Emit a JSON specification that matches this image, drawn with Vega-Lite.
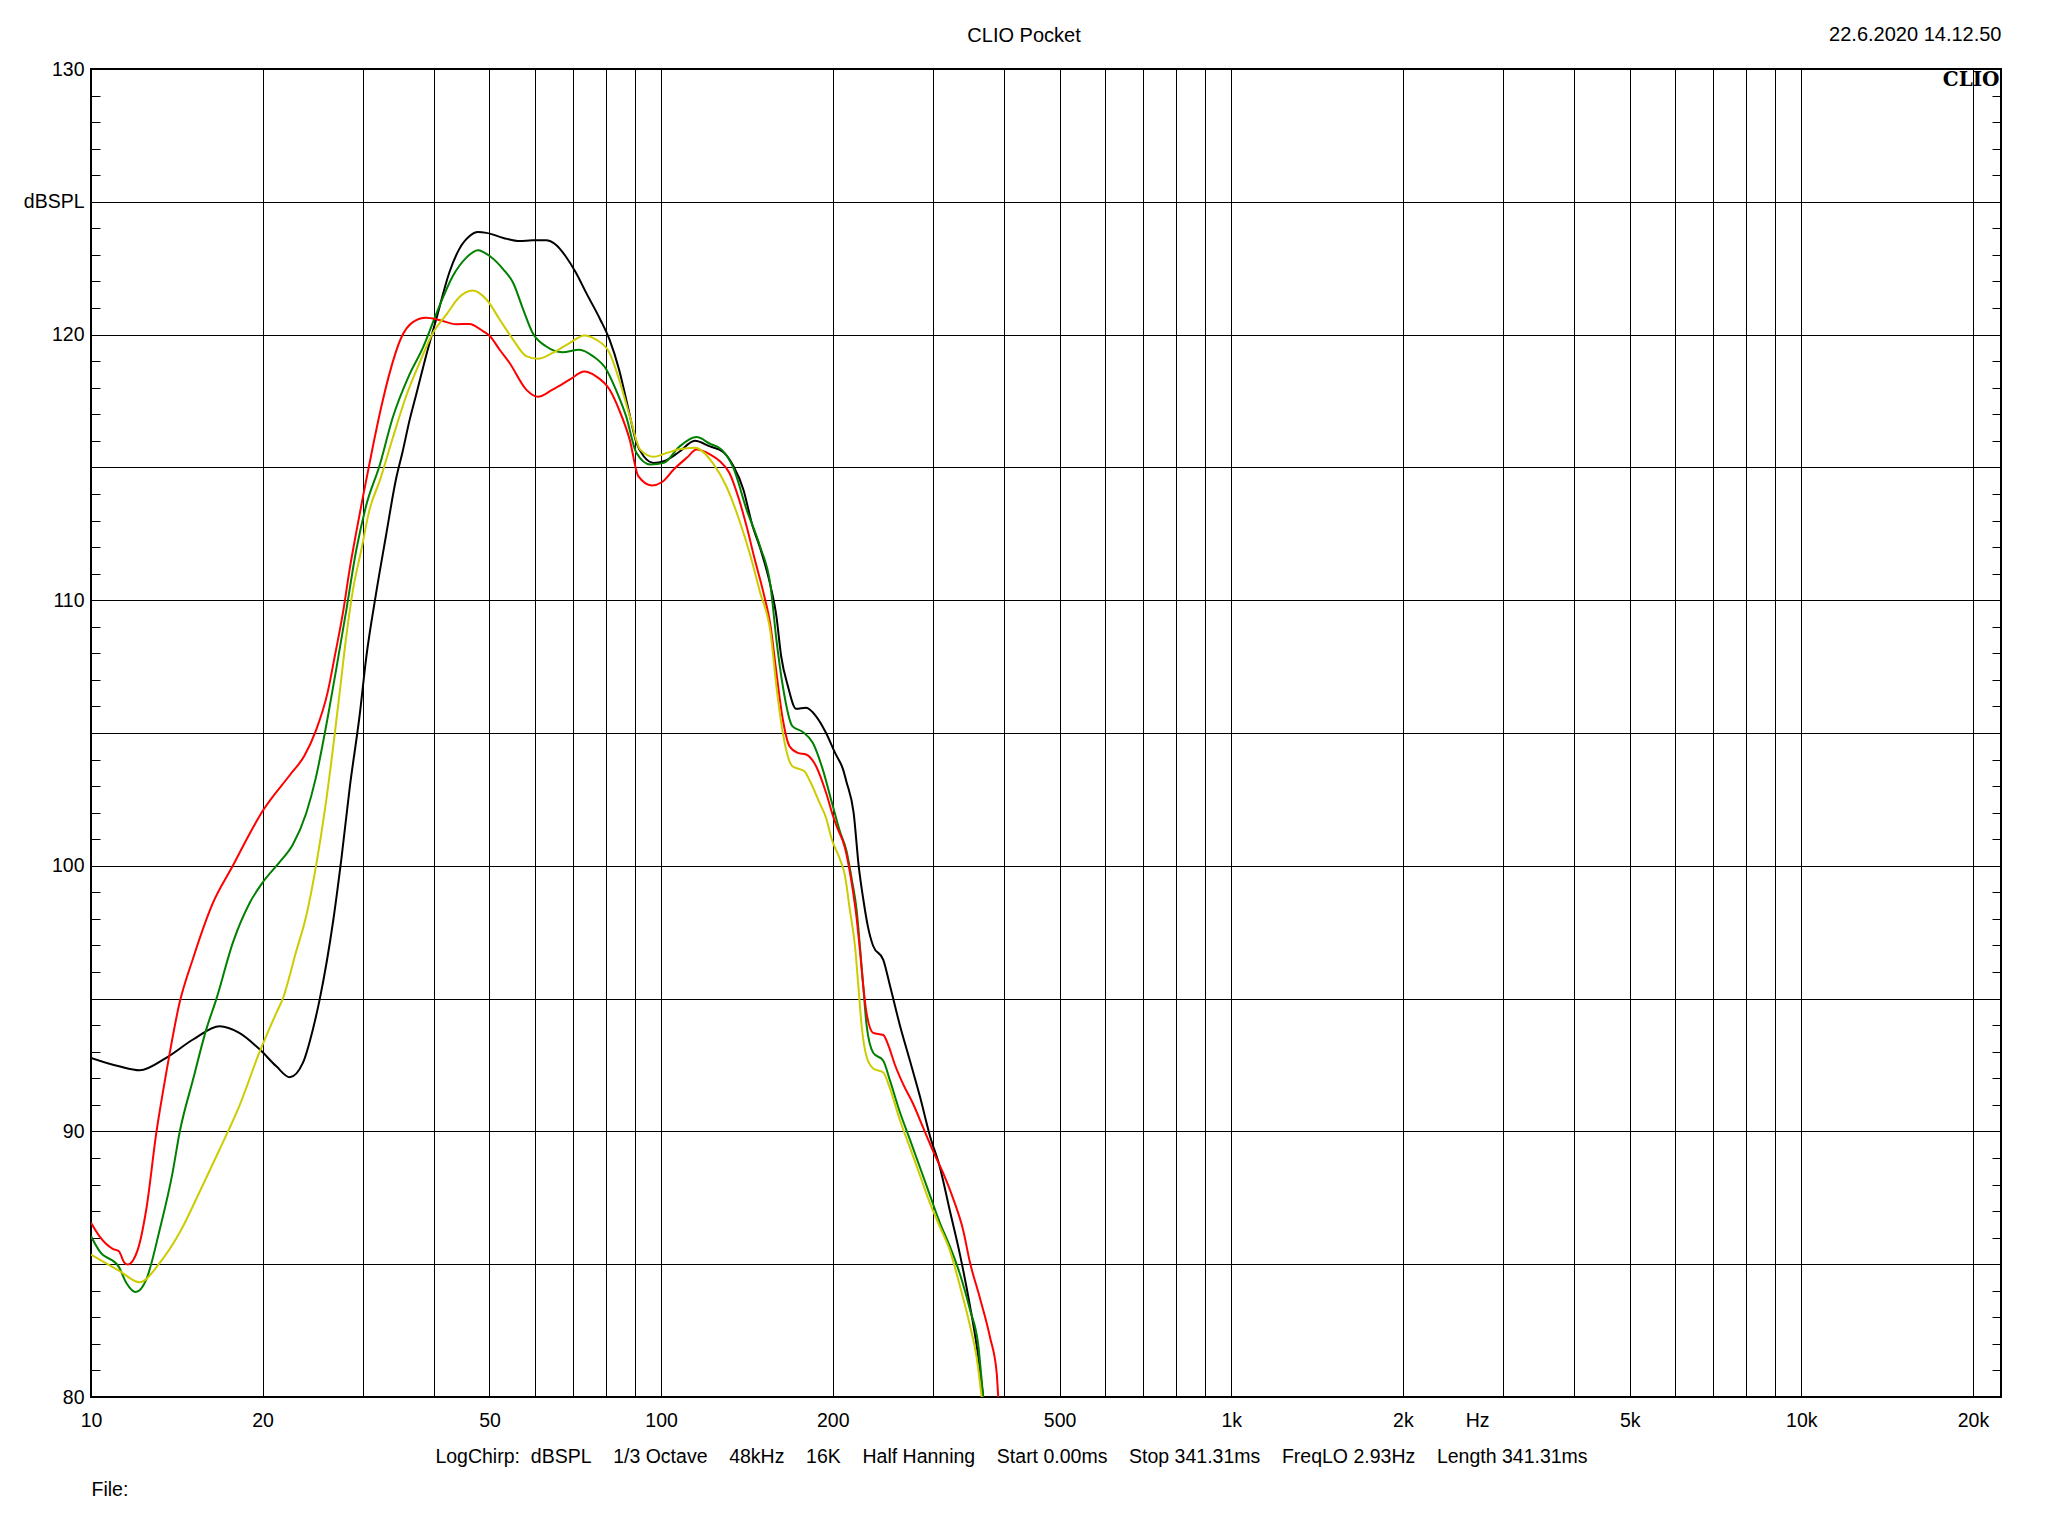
{
"$schema": "https://vega.github.io/schema/vega-lite/v6.json",
"width": 1910, "height": 1328,
"autosize": {"type": "none"},
"padding": {"left": 91, "top": 69, "right": 47, "bottom": 139},
"background": "white",
"title": {"text": "CLIO Pocket", "anchor": "middle", "dx": -22, "offset": -21.5, "fontSize": 20, "font": "Liberation Sans", "fontWeight": "normal", "color": "black"},
"config": {
  "view": {"stroke": "black", "strokeWidth": 2},
  "axis": {"labelFont": "Liberation Sans", "titleFont": "Liberation Sans", "labelColor": "black", "titleColor": "black", "labelFontSize": 19.5, "titleFontSize": 19.5, "titleFontWeight": "normal", "gridColor": "black", "gridWidth": 1, "tickColor": "black", "tickWidth": 1, "domain": false}
},
"datasets": {
"curves": [
{"s":"Trace 1","f":10,"db":92.77},{"s":"Trace 1","f":11.2,"db":92.45},{"s":"Trace 1","f":12.17,"db":92.3},{"s":"Trace 1","f":13.55,"db":92.77},{"s":"Trace 1","f":15.1,"db":93.46},{"s":"Trace 1","f":16.81,"db":93.96},{"s":"Trace 1","f":18.2,"db":93.71},{"s":"Trace 1","f":19.78,"db":93.08},{"s":"Trace 1","f":21.14,"db":92.45},{"s":"Trace 1","f":22.31,"db":92.04},{"s":"Trace 1","f":23.53,"db":92.58},{"s":"Trace 1","f":24.5,"db":93.84},{"s":"Trace 1","f":25.2,"db":95.0},{"s":"Trace 1","f":26.6,"db":97.94},{"s":"Trace 1","f":27.5,"db":100.29},{"s":"Trace 1","f":28.45,"db":102.99},{"s":"Trace 1","f":29.6,"db":105.68},{"s":"Trace 1","f":30.4,"db":107.86},{"s":"Trace 1","f":31.6,"db":110.21},{"s":"Trace 1","f":32.9,"db":112.4},{"s":"Trace 1","f":34.3,"db":114.59},{"s":"Trace 1","f":35.2,"db":115.59},{"s":"Trace 1","f":36.2,"db":116.77},{"s":"Trace 1","f":37.2,"db":117.75},{"s":"Trace 1","f":38.8,"db":119.29},{"s":"Trace 1","f":40.4,"db":120.64},{"s":"Trace 1","f":42.5,"db":122.33},{"s":"Trace 1","f":44.2,"db":123.2},{"s":"Trace 1","f":46.1,"db":123.7},{"s":"Trace 1","f":47.7,"db":123.86},{"s":"Trace 1","f":49.4,"db":123.83},{"s":"Trace 1","f":52.9,"db":123.64},{"s":"Trace 1","f":56.5,"db":123.52},{"s":"Trace 1","f":59.5,"db":123.55},{"s":"Trace 1","f":62.8,"db":123.55},{"s":"Trace 1","f":65.3,"db":123.39},{"s":"Trace 1","f":68.0,"db":122.95},{"s":"Trace 1","f":70.9,"db":122.33},{"s":"Trace 1","f":73.9,"db":121.57},{"s":"Trace 1","f":78.2,"db":120.57},{"s":"Trace 1","f":81.2,"db":119.81},{"s":"Trace 1","f":84.4,"db":118.68},{"s":"Trace 1","f":87.4,"db":117.3},{"s":"Trace 1","f":90.5,"db":115.93},{"s":"Trace 1","f":93.2,"db":115.42},{"s":"Trace 1","f":97.1,"db":115.17},{"s":"Trace 1","f":101.1,"db":115.23},{"s":"Trace 1","f":107.5,"db":115.58},{"s":"Trace 1","f":114.6,"db":116.0},{"s":"Trace 1","f":121.8,"db":115.79},{"s":"Trace 1","f":128.5,"db":115.58},{"s":"Trace 1","f":133.9,"db":115.05},{"s":"Trace 1","f":139.4,"db":114.17},{"s":"Trace 1","f":144.2,"db":112.91},{"s":"Trace 1","f":150.1,"db":111.78},{"s":"Trace 1","f":155.6,"db":110.53},{"s":"Trace 1","f":159.3,"db":109.4},{"s":"Trace 1","f":162.4,"db":107.89},{"s":"Trace 1","f":166.9,"db":106.76},{"s":"Trace 1","f":172.5,"db":105.91},{"s":"Trace 1","f":179.6,"db":105.95},{"s":"Trace 1","f":187.0,"db":105.63},{"s":"Trace 1","f":194.7,"db":105.0},{"s":"Trace 1","f":201.9,"db":104.25},{"s":"Trace 1","f":208.5,"db":103.63},{"s":"Trace 1","f":211.5,"db":103.15},{"s":"Trace 1","f":217.6,"db":102.0},{"s":"Trace 1","f":222.2,"db":99.96},{"s":"Trace 1","f":226.2,"db":98.76},{"s":"Trace 1","f":230.5,"db":97.72},{"s":"Trace 1","f":235.5,"db":96.98},{"s":"Trace 1","f":245.3,"db":96.46},{"s":"Trace 1","f":252.0,"db":95.49},{"s":"Trace 1","f":262.3,"db":94.0},{"s":"Trace 1","f":273.2,"db":92.66},{"s":"Trace 1","f":284.4,"db":91.32},{"s":"Trace 1","f":296.1,"db":89.84},{"s":"Trace 1","f":308.3,"db":88.65},{"s":"Trace 1","f":321.0,"db":87.01},{"s":"Trace 1","f":334.3,"db":85.37},{"s":"Trace 1","f":348.1,"db":83.44},{"s":"Trace 1","f":357.6,"db":81.95},{"s":"Trace 1","f":367.3,"db":80.0},{"s":"Trace 1","f":374,"db":78.5},
{"s":"Trace 2","f":10,"db":86.05},{"s":"Trace 2","f":10.35,"db":85.49},{"s":"Trace 2","f":11.19,"db":84.9},{"s":"Trace 2","f":11.53,"db":84.3},{"s":"Trace 2","f":11.98,"db":83.95},{"s":"Trace 2","f":12.5,"db":84.42},{"s":"Trace 2","f":13.2,"db":86.31},{"s":"Trace 2","f":13.9,"db":88.44},{"s":"Trace 2","f":14.3,"db":89.95},{"s":"Trace 2","f":15.1,"db":91.95},{"s":"Trace 2","f":15.93,"db":93.84},{"s":"Trace 2","f":16.6,"db":95.0},{"s":"Trace 2","f":17.73,"db":97.1},{"s":"Trace 2","f":18.99,"db":98.61},{"s":"Trace 2","f":20.0,"db":99.37},{"s":"Trace 2","f":21.4,"db":100.13},{"s":"Trace 2","f":22.6,"db":100.8},{"s":"Trace 2","f":23.85,"db":101.98},{"s":"Trace 2","f":24.8,"db":103.32},{"s":"Trace 2","f":25.8,"db":105.17},{"s":"Trace 2","f":26.9,"db":107.36},{"s":"Trace 2","f":28.0,"db":109.54},{"s":"Trace 2","f":29.2,"db":111.9},{"s":"Trace 2","f":30.4,"db":113.58},{"s":"Trace 2","f":32.1,"db":115.09},{"s":"Trace 2","f":33.8,"db":116.85},{"s":"Trace 2","f":36.2,"db":118.5},{"s":"Trace 2","f":38.2,"db":119.5},{"s":"Trace 2","f":40.4,"db":120.82},{"s":"Trace 2","f":43.1,"db":122.2},{"s":"Trace 2","f":45.5,"db":122.89},{"s":"Trace 2","f":47.7,"db":123.18},{"s":"Trace 2","f":50.1,"db":122.95},{"s":"Trace 2","f":52.9,"db":122.45},{"s":"Trace 2","f":55.0,"db":121.95},{"s":"Trace 2","f":57.3,"db":120.94},{"s":"Trace 2","f":59.5,"db":120.07},{"s":"Trace 2","f":62.8,"db":119.56},{"s":"Trace 2","f":67.1,"db":119.34},{"s":"Trace 2","f":71.9,"db":119.43},{"s":"Trace 2","f":75.9,"db":119.19},{"s":"Trace 2","f":80.2,"db":118.68},{"s":"Trace 2","f":83.3,"db":117.93},{"s":"Trace 2","f":86.8,"db":116.93},{"s":"Trace 2","f":90.5,"db":115.55},{"s":"Trace 2","f":95.7,"db":115.11},{"s":"Trace 2","f":101.1,"db":115.17},{"s":"Trace 2","f":107.5,"db":115.77},{"s":"Trace 2","f":115.4,"db":116.14},{"s":"Trace 2","f":121.8,"db":115.89},{"s":"Trace 2","f":127.7,"db":115.67},{"s":"Trace 2","f":133.9,"db":114.98},{"s":"Trace 2","f":141.2,"db":113.42},{"s":"Trace 2","f":149.1,"db":112.03},{"s":"Trace 2","f":155.6,"db":110.53},{"s":"Trace 2","f":159.3,"db":108.52},{"s":"Trace 2","f":163.5,"db":106.76},{"s":"Trace 2","f":169.9,"db":105.26},{"s":"Trace 2","f":177.2,"db":105.04},{"s":"Trace 2","f":184.5,"db":104.63},{"s":"Trace 2","f":192.1,"db":103.63},{"s":"Trace 2","f":199.2,"db":102.4},{"s":"Trace 2","f":205.9,"db":101.29},{"s":"Trace 2","f":211.5,"db":100.55},{"s":"Trace 2","f":215.9,"db":99.51},{"s":"Trace 2","f":220.3,"db":98.32},{"s":"Trace 2","f":223.2,"db":96.98},{"s":"Trace 2","f":226.2,"db":95.49},{"s":"Trace 2","f":229.3,"db":94.0},{"s":"Trace 2","f":235.5,"db":92.96},{"s":"Trace 2","f":245.3,"db":92.66},{"s":"Trace 2","f":252.0,"db":91.92},{"s":"Trace 2","f":262.3,"db":90.73},{"s":"Trace 2","f":273.2,"db":89.69},{"s":"Trace 2","f":284.4,"db":88.65},{"s":"Trace 2","f":296.1,"db":87.6},{"s":"Trace 2","f":308.3,"db":86.56},{"s":"Trace 2","f":321.0,"db":85.67},{"s":"Trace 2","f":334.3,"db":84.63},{"s":"Trace 2","f":348.1,"db":83.29},{"s":"Trace 2","f":360.0,"db":81.95},{"s":"Trace 2","f":367.3,"db":80.0},{"s":"Trace 2","f":374,"db":78.5},
{"s":"Trace 3","f":10,"db":86.56},{"s":"Trace 3","f":10.35,"db":86.05},{"s":"Trace 3","f":10.92,"db":85.58},{"s":"Trace 3","f":11.19,"db":85.49},{"s":"Trace 3","f":11.45,"db":85.05},{"s":"Trace 3","f":11.6,"db":84.99},{"s":"Trace 3","f":12.08,"db":85.55},{"s":"Trace 3","f":12.5,"db":87.06},{"s":"Trace 3","f":13.02,"db":89.95},{"s":"Trace 3","f":13.55,"db":92.2},{"s":"Trace 3","f":14.3,"db":94.84},{"s":"Trace 3","f":15.1,"db":96.51},{"s":"Trace 3","f":16.37,"db":98.61},{"s":"Trace 3","f":17.73,"db":100.0},{"s":"Trace 3","f":18.99,"db":101.22},{"s":"Trace 3","f":20.0,"db":102.06},{"s":"Trace 3","f":22.31,"db":103.41},{"s":"Trace 3","f":23.7,"db":104.16},{"s":"Trace 3","f":24.8,"db":105.09},{"s":"Trace 3","f":26.0,"db":106.52},{"s":"Trace 3","f":26.75,"db":107.86},{"s":"Trace 3","f":27.67,"db":109.54},{"s":"Trace 3","f":28.45,"db":111.22},{"s":"Trace 3","f":29.2,"db":112.57},{"s":"Trace 3","f":30.0,"db":113.91},{"s":"Trace 3","f":31.2,"db":115.76},{"s":"Trace 3","f":32.3,"db":117.28},{"s":"Trace 3","f":33.4,"db":118.55},{"s":"Trace 3","f":35.0,"db":119.88},{"s":"Trace 3","f":36.7,"db":120.47},{"s":"Trace 3","f":38.7,"db":120.63},{"s":"Trace 3","f":40.8,"db":120.55},{"s":"Trace 3","f":43.7,"db":120.39},{"s":"Trace 3","f":46.1,"db":120.4},{"s":"Trace 3","f":48.7,"db":120.13},{"s":"Trace 3","f":50.1,"db":119.94},{"s":"Trace 3","f":52.1,"db":119.43},{"s":"Trace 3","f":54.2,"db":118.94},{"s":"Trace 3","f":58.0,"db":117.93},{"s":"Trace 3","f":60.8,"db":117.66},{"s":"Trace 3","f":64.5,"db":117.93},{"s":"Trace 3","f":69.2,"db":118.31},{"s":"Trace 3","f":73.3,"db":118.61},{"s":"Trace 3","f":76.9,"db":118.43},{"s":"Trace 3","f":81.2,"db":117.93},{"s":"Trace 3","f":84.4,"db":117.17},{"s":"Trace 3","f":88.1,"db":116.04},{"s":"Trace 3","f":91.2,"db":114.67},{"s":"Trace 3","f":96.3,"db":114.32},{"s":"Trace 3","f":100.3,"db":114.44},{"s":"Trace 3","f":105.2,"db":114.92},{"s":"Trace 3","f":110.9,"db":115.36},{"s":"Trace 3","f":115.4,"db":115.67},{"s":"Trace 3","f":121.8,"db":115.49},{"s":"Trace 3","f":126.8,"db":115.23},{"s":"Trace 3","f":131.7,"db":114.8},{"s":"Trace 3","f":137.0,"db":113.79},{"s":"Trace 3","f":141.2,"db":112.79},{"s":"Trace 3","f":146.0,"db":111.53},{"s":"Trace 3","f":151.2,"db":110.28},{"s":"Trace 3","f":155.6,"db":109.02},{"s":"Trace 3","f":159.3,"db":107.27},{"s":"Trace 3","f":163.5,"db":105.51},{"s":"Trace 3","f":168.0,"db":104.5},{"s":"Trace 3","f":173.7,"db":104.25},{"s":"Trace 3","f":179.6,"db":104.19},{"s":"Trace 3","f":187.0,"db":103.75},{"s":"Trace 3","f":194.7,"db":102.75},{"s":"Trace 3","f":200.1,"db":101.9},{"s":"Trace 3","f":203.1,"db":101.5},{"s":"Trace 3","f":210.0,"db":100.7},{"s":"Trace 3","f":215.9,"db":99.36},{"s":"Trace 3","f":220.3,"db":98.02},{"s":"Trace 3","f":223.2,"db":96.83},{"s":"Trace 3","f":226.2,"db":95.49},{"s":"Trace 3","f":229.3,"db":94.45},{"s":"Trace 3","f":235.5,"db":93.71},{"s":"Trace 3","f":245.3,"db":93.63},{"s":"Trace 3","f":250.2,"db":93.26},{"s":"Trace 3","f":257.1,"db":92.51},{"s":"Trace 3","f":265.9,"db":91.77},{"s":"Trace 3","f":276.8,"db":91.03},{"s":"Trace 3","f":288.3,"db":90.13},{"s":"Trace 3","f":300.2,"db":89.24},{"s":"Trace 3","f":312.6,"db":88.42},{"s":"Trace 3","f":325.4,"db":87.46},{"s":"Trace 3","f":338.8,"db":86.27},{"s":"Trace 3","f":348.1,"db":85.07},{"s":"Trace 3","f":362.4,"db":83.73},{"s":"Trace 3","f":377.5,"db":82.25},{"s":"Trace 3","f":387.8,"db":80.91},{"s":"Trace 3","f":390.3,"db":80.0},{"s":"Trace 3","f":396,"db":78.5},
{"s":"Trace 4","f":10,"db":85.36},{"s":"Trace 4","f":11.23,"db":84.74},{"s":"Trace 4","f":12.17,"db":84.32},{"s":"Trace 4","f":13.2,"db":85.05},{"s":"Trace 4","f":14.3,"db":86.18},{"s":"Trace 4","f":15.48,"db":87.69},{"s":"Trace 4","f":16.81,"db":89.32},{"s":"Trace 4","f":18.2,"db":90.95},{"s":"Trace 4","f":19.78,"db":93.02},{"s":"Trace 4","f":21.14,"db":94.46},{"s":"Trace 4","f":21.7,"db":95.0},{"s":"Trace 4","f":22.9,"db":96.77},{"s":"Trace 4","f":23.85,"db":98.11},{"s":"Trace 4","f":24.8,"db":99.96},{"s":"Trace 4","f":25.8,"db":102.31},{"s":"Trace 4","f":26.6,"db":104.5},{"s":"Trace 4","f":27.3,"db":106.52},{"s":"Trace 4","f":28.0,"db":108.53},{"s":"Trace 4","f":28.8,"db":110.38},{"s":"Trace 4","f":29.8,"db":111.9},{"s":"Trace 4","f":30.8,"db":113.41},{"s":"Trace 4","f":32.1,"db":114.5},{"s":"Trace 4","f":33.8,"db":116.08},{"s":"Trace 4","f":35.7,"db":117.68},{"s":"Trace 4","f":37.7,"db":118.94},{"s":"Trace 4","f":39.8,"db":120.07},{"s":"Trace 4","f":42.0,"db":120.75},{"s":"Trace 4","f":44.2,"db":121.4},{"s":"Trace 4","f":46.7,"db":121.66},{"s":"Trace 4","f":49.4,"db":121.32},{"s":"Trace 4","f":52.1,"db":120.57},{"s":"Trace 4","f":55.0,"db":119.81},{"s":"Trace 4","f":58.0,"db":119.19},{"s":"Trace 4","f":60.8,"db":119.09},{"s":"Trace 4","f":64.5,"db":119.31},{"s":"Trace 4","f":69.2,"db":119.69},{"s":"Trace 4","f":73.3,"db":119.97},{"s":"Trace 4","f":76.9,"db":119.81},{"s":"Trace 4","f":81.2,"db":119.31},{"s":"Trace 4","f":84.4,"db":118.31},{"s":"Trace 4","f":88.1,"db":116.93},{"s":"Trace 4","f":91.9,"db":115.67},{"s":"Trace 4","f":97.1,"db":115.4},{"s":"Trace 4","f":102.5,"db":115.55},{"s":"Trace 4","f":107.5,"db":115.68},{"s":"Trace 4","f":114.6,"db":115.74},{"s":"Trace 4","f":123.4,"db":115.14},{"s":"Trace 4","f":130.1,"db":114.29},{"s":"Trace 4","f":137.0,"db":113.04},{"s":"Trace 4","f":143.3,"db":111.7},{"s":"Trace 4","f":149.1,"db":110.3},{"s":"Trace 4","f":155.6,"db":108.77},{"s":"Trace 4","f":159.3,"db":106.76},{"s":"Trace 4","f":163.5,"db":105.0},{"s":"Trace 4","f":169.9,"db":103.75},{"s":"Trace 4","f":178.4,"db":103.56},{"s":"Trace 4","f":182.3,"db":103.2},{"s":"Trace 4","f":189.9,"db":102.34},{"s":"Trace 4","f":194.7,"db":101.8},{"s":"Trace 4","f":199.2,"db":101.0},{"s":"Trace 4","f":205.9,"db":100.25},{"s":"Trace 4","f":210.0,"db":99.66},{"s":"Trace 4","f":214.4,"db":98.32},{"s":"Trace 4","f":218.8,"db":96.98},{"s":"Trace 4","f":221.8,"db":95.49},{"s":"Trace 4","f":224.7,"db":94.0},{"s":"Trace 4","f":229.3,"db":92.81},{"s":"Trace 4","f":235.5,"db":92.37},{"s":"Trace 4","f":245.3,"db":92.22},{"s":"Trace 4","f":252.0,"db":91.62},{"s":"Trace 4","f":262.3,"db":90.43},{"s":"Trace 4","f":273.2,"db":89.39},{"s":"Trace 4","f":284.4,"db":88.35},{"s":"Trace 4","f":296.1,"db":87.31},{"s":"Trace 4","f":308.3,"db":86.41},{"s":"Trace 4","f":321.0,"db":85.52},{"s":"Trace 4","f":334.3,"db":84.18},{"s":"Trace 4","f":348.1,"db":82.69},{"s":"Trace 4","f":357.6,"db":81.5},{"s":"Trace 4","f":364.9,"db":80.0},{"s":"Trace 4","f":371,"db":78.5}
]
},
"data": {"name": "curves"},
"layer": [
{
  "transform": [{"filter": "datum.s === 'Trace 1' || datum.s === 'Trace 2'"}],
  "mark": {"type": "line", "clip": true, "strokeWidth": 2, "interpolate": "monotone"},
  "encoding": {
    "x": {"field": "f", "type": "quantitative", "scale": {"type": "log", "domain": [10, 22400]},
      "axis": {"orient": "bottom",
        "values": [10,20,30,40,50,60,70,80,90,100,200,300,400,500,600,700,800,900,1000,2000,2700,3000,4000,5000,6000,7000,8000,9000,10000,20000],
        "labelExpr": "datum.value == 2700 ? 'Hz' : (indexof([10,20,50,100,200,500,1000,2000,5000,10000,20000], datum.value) >= 0 ? (datum.value >= 1000 ? (datum.value/1000) + 'k' : '' + datum.value) : '')",
        "labelOverlap": false, "labelFlush": false, "labelBaseline": "middle", "labelPadding": 23,
        "ticks": false, "tickSize": 0, "grid": true,
        "gridOpacity": {"condition": {"test": "datum.value == 2700", "value": 0}, "value": 1},
        "title": "LogChirp:\u00a0\u00a0dBSPL\u00a0\u00a0\u00a0\u00a01/3 Octave\u00a0\u00a0\u00a0\u00a048kHz\u00a0\u00a0\u00a0\u00a016K\u00a0\u00a0\u00a0\u00a0Half Hanning\u00a0\u00a0\u00a0\u00a0Start 0.00ms\u00a0\u00a0\u00a0\u00a0Stop 341.31ms\u00a0\u00a0\u00a0\u00a0FreqLO 2.93Hz\u00a0\u00a0\u00a0\u00a0Length 341.31ms",
        "titleX": 920, "titleY": 59, "titleAlign": "center", "titleBaseline": "middle", "titleAngle": 0}},
    "y": {"field": "db", "type": "quantitative", "scale": {"domain": [80, 130], "nice": false, "zero": false},
      "axis": {"orient": "left",
        "values": [80,81,82,83,84,85,86,87,88,89,90,91,92,93,94,95,96,97,98,99,100,101,102,103,104,105,106,107,108,109,110,111,112,113,114,115,116,117,118,119,120,121,122,123,124,125,126,127,128,129,130],
        "labelExpr": "datum.value % 10 == 0 ? '' + datum.value : (datum.value == 125 ? 'dBSPL' : '')",
        "labelOverlap": false, "labelFlush": false, "labelPadding": 16, "labelAlign": "right", "labelBaseline": "middle",
        "tickSize": -9, "grid": true,
        "gridOpacity": {"condition": {"test": "datum.value % 5 != 0", "value": 0}, "value": 1},
        "title": "File:", "titleAngle": 0, "titleX": 0, "titleY": 1420, "titleAlign": "left", "titleBaseline": "middle"}},
    "color": {"field": "s", "type": "nominal", "scale": {"domain": ["Trace 1","Trace 2","Trace 3","Trace 4"], "range": ["#000000","#008000","#ff0000","#cccc00"]}, "legend": null}
  }
},
{
  "transform": [{"filter": "datum.s === 'Trace 3' || datum.s === 'Trace 4'"}],
  "mark": {"type": "line", "clip": true, "strokeWidth": 2, "interpolate": "monotone"},
  "encoding": {
    "x": {"field": "f", "type": "quantitative", "scale": {"type": "log", "domain": [10, 22400]},
      "axis": {"orient": "top", "labels": false, "ticks": false, "grid": false,
        "title": "22.6.2020 14.12.50", "titleX": 1910, "titleY": -34.5, "titleAlign": "right", "titleBaseline": "middle", "titleAngle": 0, "titleFontSize": 20}},
    "y": {"field": "db", "type": "quantitative", "scale": {"domain": [80, 130], "nice": false, "zero": false},
      "axis": {"orient": "right",
        "values": [80,81,82,83,84,85,86,87,88,89,90,91,92,93,94,95,96,97,98,99,100,101,102,103,104,105,106,107,108,109,110,111,112,113,114,115,116,117,118,119,120,121,122,123,124,125,126,127,128,129,130],
        "labels": false, "tickSize": -9, "grid": false,
        "title": "CLIO", "titleAngle": 0, "titleX": -2, "titleY": 10, "titleAlign": "right", "titleBaseline": "middle",
        "titleFont": "DejaVu Serif", "titleFontWeight": "bold", "titleFontSize": 20}},
    "color": {"field": "s", "type": "nominal", "scale": {"domain": ["Trace 1","Trace 2","Trace 3","Trace 4"], "range": ["#000000","#008000","#ff0000","#cccc00"]}, "legend": null}
  }
}
],
"resolve": {"axis": {"x": "independent", "y": "independent"}}
}
